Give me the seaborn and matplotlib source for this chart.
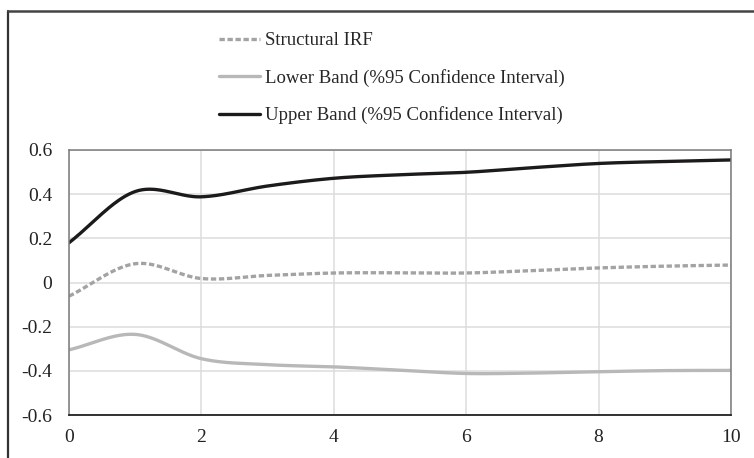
import numpy as np
import pandas as pd
import seaborn as sns
import matplotlib
matplotlib.use("Agg")
import matplotlib.pyplot as plt
from matplotlib.lines import Line2D

# Impulse-response horizon and estimates
periods = [0, 1, 2, 3, 4, 5, 6, 7, 8, 9, 10]
structural_irf = [-0.062, 0.085, 0.018, 0.032, 0.043, 0.044, 0.043, 0.054, 0.066, 0.074, 0.079]
lower_band = [-0.305, -0.235, -0.345, -0.372, -0.382, -0.397, -0.412, -0.410, -0.404, -0.399, -0.398]
upper_band = [0.18, 0.412, 0.388, 0.437, 0.472, 0.488, 0.499, 0.52, 0.539, 0.548, 0.555]

series_names = ["Structural IRF",
                "Lower Band (%95 Confidence Interval)",
                "Upper Band (%95 Confidence Interval)"]
x_ticks = [0, 2, 4, 6, 8, 10]
y_ticks = [-0.6, -0.4, -0.2, 0, 0.2, 0.4, 0.6]
y_tick_labels = ["-0.6", "-0.4", "-0.2", "0", "0.2", "0.4", "0.6"]


def smooth(x, y, n=40):
    """Catmull-Rom curve through the points (spreadsheet-style smoothed line)."""
    x = np.asarray(x, float)
    y = np.asarray(y, float)
    px = np.concatenate([[2 * x[0] - x[1]], x, [2 * x[-1] - x[-2]]])
    py = np.concatenate([[2 * y[0] - y[1]], y, [2 * y[-1] - y[-2]]])
    xs, ys = [], []
    t = np.linspace(0, 1, n, endpoint=False)
    for i in range(1, len(px) - 2):
        for p, out in ((px, xs), (py, ys)):
            p0, p1, p2, p3 = p[i - 1], p[i], p[i + 1], p[i + 2]
            out.extend(0.5 * ((2 * p1) + (-p0 + p2) * t
                              + (2 * p0 - 5 * p1 + 4 * p2 - p3) * t ** 2
                              + (-p0 + 3 * p1 - 3 * p2 + p3) * t ** 3))
    xs.append(x[-1])
    ys.append(y[-1])
    return np.array(xs), np.array(ys)


frames = []
for name, vals in zip(series_names, [structural_irf, lower_band, upper_band]):
    sx, sy = smooth(periods, vals)
    frames.append(pd.DataFrame({"period": sx, "value": sy, "series": name}))
df = pd.concat(frames, ignore_index=True)

sns.set_theme(style="white")
plt.rcParams["font.family"] = ["Liberation Serif", "DejaVu Serif"]
plt.rcParams["axes.unicode_minus"] = False

fig = plt.figure(figsize=(7.54, 4.58), dpi=100)
ax = fig.add_axes([69 / 754, 43 / 458, 662 / 754, 265 / 458])

colors = {series_names[0]: "#a3a3a5",
          series_names[1]: "#b8b8b8",
          series_names[2]: "#1c1a1b"}
dashes = {series_names[0]: (1.6, 0.8), series_names[1]: "", series_names[2]: ""}

sns.lineplot(data=df, x="period", y="value", hue="series", style="series",
             palette=colors, dashes=dashes, linewidth=2.4, sort=False,
             estimator=None, legend=False, ax=ax)

ax.set_xlim(0, 10)
ax.set_ylim(-0.6, 0.6)
ax.set_xticks(x_ticks)
ax.set_xticklabels([str(v) for v in x_ticks])
ax.set_yticks(y_ticks)
ax.set_yticklabels(y_tick_labels)
ax.set_xlabel("")
ax.set_ylabel("")
ax.grid(True, color="#dcdcdc", linewidth=1.1)
ax.set_axisbelow(True)
ax.tick_params(axis="both", length=0, labelsize=14, colors="#222222")
ax.tick_params(axis="y", pad=12)
ax.tick_params(axis="x", pad=10)
for side in ("left", "right", "top"):
    ax.spines[side].set_color("#7a7a7a")
    ax.spines[side].set_linewidth(1.1)
ax.spines["bottom"].set_color("#222222")
ax.spines["bottom"].set_linewidth(1.3)

# Legend above the plotting area
handles = [Line2D([], [], color=colors[n], linewidth=2.4,
                  dashes=dashes[n] if dashes[n] else (None, None))
           for n in series_names]
fig.legend(handles, series_names, loc="upper left",
           bbox_to_anchor=(219 / 754, 1 - 32 / 458), frameon=False,
           fontsize=13.5, handlelength=2.2, handletextpad=0.25,
           labelspacing=1.05, borderaxespad=0, borderpad=0)

# Outer frame around the chart
fig.add_artist(Line2D([8 / 754, 8 / 754], [0, 1 - 11 / 458], transform=fig.transFigure,
                      color="#333333", linewidth=1.6))
fig.add_artist(Line2D([8 / 754, 1], [1 - 11 / 458, 1 - 11 / 458], transform=fig.transFigure,
                      color="#444444", linewidth=1.8))

fig.savefig("out.png", dpi=100)
